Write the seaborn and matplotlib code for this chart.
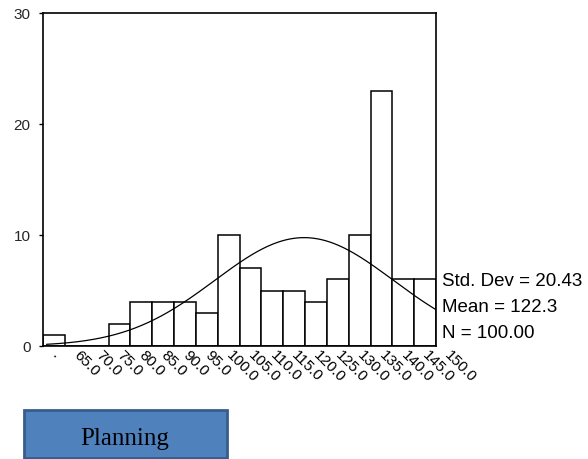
import numpy as np
import pandas as pd
import matplotlib
matplotlib.use("Agg")
import matplotlib.pyplot as plt
from matplotlib.patches import Rectangle
import seaborn as sns

# Histogram bins (centre values) and counts
bin_centers = [65, 70, 75, 80, 85, 90, 95, 100, 105, 110, 115, 120, 125, 130, 135, 140, 145, 150]
counts = [1, 0, 0, 2, 4, 4, 4, 3, 10, 7, 5, 5, 4, 6, 10, 23, 6, 6]
bin_width = 5

# Tick labels along the x axis
x_tick_labels = [".", "65.0", "70.0", "75.0", "80.0", "85.0", "90.0", "95.0", "100.0", "105.0",
                 "110.0", "115.0", "120.0", "125.0", "130.0", "135.0", "140.0", "145.0", "150.0"]
y_ticks = [0, 10, 20, 30]

# Summary statistics
std_dev = 20.43
mean = 122.3
n_total = 100

sns.set_theme(style="white")
plt.rcParams["font.family"] = ["Liberation Sans", "DejaVu Sans"]

W, H = 588, 460
fig = plt.figure(figsize=(W / 100, H / 100), dpi=100)
ax = fig.add_axes([43 / W, 1 - 347 / H, (436 - 43) / W, (347 - 14) / H])

df = pd.DataFrame({"value": bin_centers, "count": counts})
edges = [c - bin_width / 2 for c in bin_centers] + [bin_centers[-1] + bin_width / 2]
sns.histplot(data=df, x="value", weights="count", bins=edges, ax=ax,
             color="white", edgecolor="black", linewidth=1.1, alpha=1)

# Fitted normal curve scaled to the counts
lo, hi = edges[0], edges[-1]
xs = np.linspace(lo + 0.8, hi, 300)
ys = n_total * bin_width / (std_dev * np.sqrt(2 * np.pi)) * np.exp(-0.5 * ((xs - mean) / std_dev) ** 2)
sns.lineplot(x=xs, y=ys, ax=ax, color="black", linewidth=0.9)

ax.set_xlim(lo, hi)
ax.set_ylim(0, 30)
ax.set_yticks(y_ticks)
ax.set_yticklabels([str(t) for t in y_ticks], fontsize=11)

# Slanted category labels under the bars (the last one runs past the frame)
ax.set_xticks([])
tick_pos = [bin_centers[0] + bin_width * i for i in range(len(x_tick_labels))]
for xp, lab in zip(tick_pos, x_tick_labels):
    ax.annotate(lab, xy=(xp, 0), xycoords=("data", "axes fraction"),
                xytext=(5, -1), textcoords="offset pixels",
                fontsize=11, rotation=-45, ha="left", va="top",
                rotation_mode="anchor", annotation_clip=False, color="black")

ax.tick_params(axis="y", length=3, width=1, color="black", pad=6, left=True)
ax.set_xlabel("")
ax.set_ylabel("")
for s in ax.spines.values():
    s.set_color("black")
    s.set_linewidth(1.2)

# Summary statistics beside the plot
stats = [f"Std. Dev = {std_dev:.2f}", f"Mean = {mean:.1f}", f"N = {n_total:.2f}"]
for i, t in enumerate(stats):
    fig.text(442 / W, 1 - (282 + 25.5 * i) / H, t, fontsize=13.5,
             ha="left", va="center", color="black")

# Caption box below the chart
box = Rectangle((24 / W, 1 - 459 / H), (227 - 24) / W, (459 - 411) / H,
                transform=fig.transFigure, facecolor="#4F81BD", edgecolor="#385D8A",
                linewidth=2)
fig.add_artist(box)
fig.text(125 / W, 1 - 439 / H, "Planning", fontsize=18, family=["Liberation Serif"],
         ha="center", va="center", color="black")

fig.savefig("out.png", dpi=100)
